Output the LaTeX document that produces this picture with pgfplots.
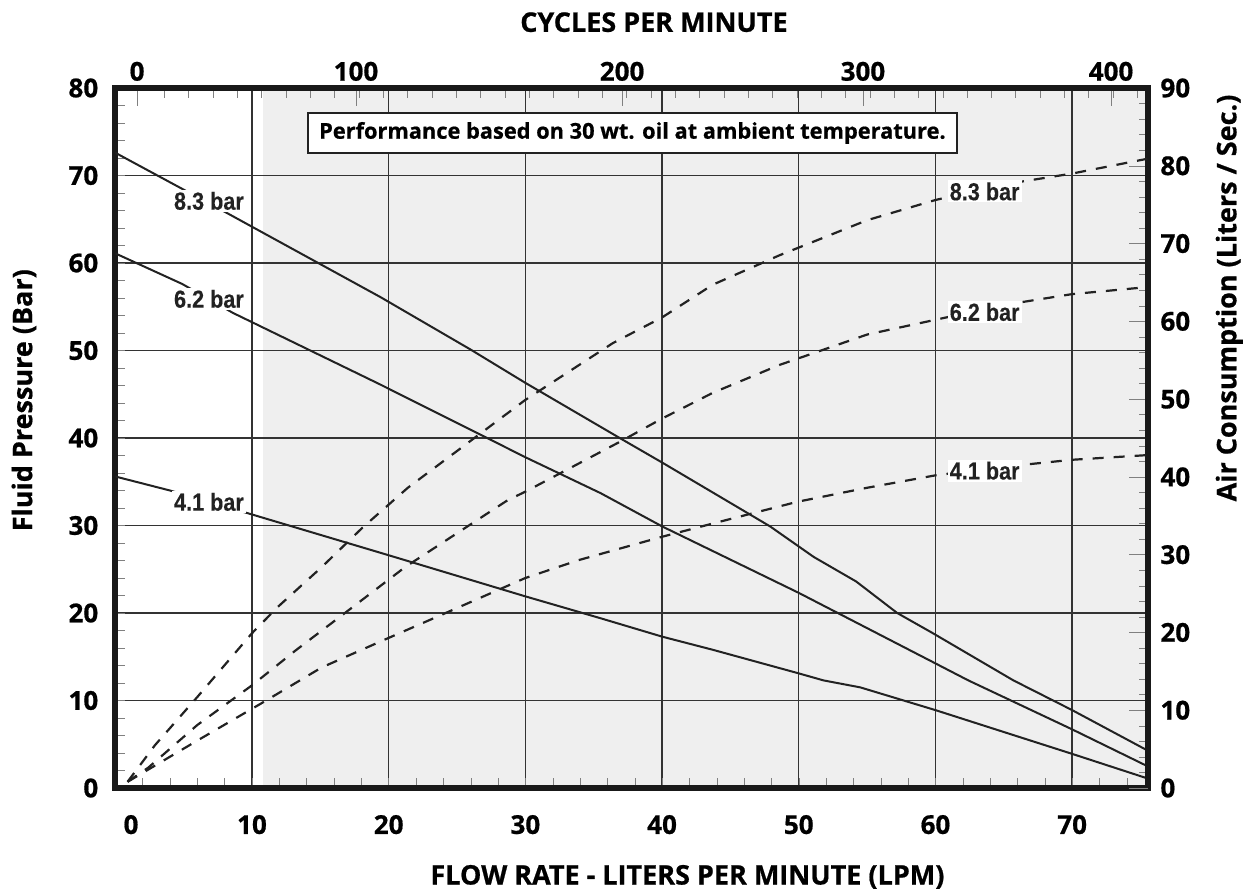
\documentclass[border=0pt]{standalone}
\usepackage{fontspec}
\usepackage{pgfplots}
\pgfplotsset{compat=1.18}
\setmainfont{Open Sans}[BoldFeatures={FakeBold=0.7}]
\newfontfamily\lblfont{Liberation Sans}[FakeStretch=0.88, BoldFeatures={FakeBold=0.3}]

\definecolor{shade}{HTML}{EFEFEF}
\definecolor{ink}{HTML}{222222}

\pgfplotsset{
  common/.style={
    scale only axis, width=516.35pt, height=350pt,
    xmin=0, xmax=75.55,
    /pgf/number format/assume math mode=true,
    tick label style={font=\bfseries\fontsize{13}{13}\selectfont},
    label style={font=\bfseries\fontsize{13.5}{13.5}\selectfont},
    tick align=inside,
    axis line style={line width=3pt, black!90},
  },
  curve/.style={ink, line width=1pt},
  air/.style={ink, line width=1.1pt, dash pattern=on 5.5pt off 5pt},
}
\tikzset{
  tag/.style={fill=white, inner sep=1pt, text=ink,
    font=\lblfont\bfseries\fontsize{12.3}{12.3}\selectfont},
}

\begin{document}
\begin{tikzpicture}
% grey band behind the grid
\begin{axis}[common, name=bg, hide axis, ymin=0, ymax=80]
  \addplot[fill=shade, draw=none] coordinates {(10.8,80) (75.55,80)} \closedcycle;
\end{axis}

% flow rate vs fluid pressure
\begin{axis}[common, name=main, at={(bg.south west)}, anchor=south west,
    ymin=0, ymax=80,
    xtick={10,20,...,70}, ytick={10,20,...,70},
    extra x ticks={1.15}, extra x tick labels={0},
    extra y ticks={0,80},
    extra tick style={grid=none, tick style={draw=none}},
    minor xtick={2,4,...,74}, minor ytick={2,4,...,78},
    xtick pos=bottom, ytick pos=left,
    major tick length=5pt, minor tick length=5pt,
    grid=major, major grid style={line width=0.7pt, black!80},
    xticklabel style={yshift=-10pt},
    yticklabel style={xshift=-5pt},
    xlabel={FLOW RATE - LITERS PER MINUTE (LPM)},
    xlabel style={at={(rel axis cs:0.554,-0.127)}, anchor=center},
    ylabel={Fluid Pressure (Bar)},
    ylabel style={at={(rel axis cs:-0.0884,0.554)}, anchor=center},
  ]
  \addplot[curve] coordinates {(0,72.6) (8.3,65.6) (19.4,56.1) (26,50.1) (30,46.3)
    (36.9,40.0) (40,37.2) (47.9,29.9) (51.1,26.4) (54.2,23.6) (57.2,20.0)
    (59.8,17.7) (65.7,12.3) (70,8.9) (75.5,4.3)};
  \addplot[curve] coordinates {(0,61.1) (4.9,57.6) (8.6,54.3) (19.4,46.1) (27.2,40.0)
    (30,37.8) (35.5,33.7) (40,29.9) (50,22.3) (59.8,14.4) (62.4,12.3)
    (70,6.7) (75.5,2.5)};
  \addplot[curve] coordinates {(0,35.6) (4.0,34.0) (9.7,31.4) (20,26.6) (30,21.9)
    (35.5,19.4) (40,17.3) (43.7,15.8) (50,13.1) (51.8,12.3) (54.5,11.5)
    (60,8.9) (70,3.9) (75.5,1.1)};
  \node[tag] at (axis cs:6.85,67.1) {8.3 bar};
  \node[tag] at (axis cs:6.85,55.9) {6.2 bar};
  \node[tag] at (axis cs:6.85,32.7) {4.1 bar};
  \node[draw=ink, line width=1.3pt, fill=white, minimum width=324.5pt,
    minimum height=20pt, inner sep=0pt,
    font=\bfseries\fontsize{10.9}{10.9}\selectfont]
    at (axis cs:37.83,74.86) {Performance based on 30 wt. oil at ambient temperature.};
\end{axis}

% air consumption, right axis
\begin{axis}[common, at={(main.south west)}, anchor=south west,
    ymin=0, ymax=90,
    axis x line=none, axis y line*=right,
    y axis line style={-},
    ytick={0,10,...,90}, minor ytick={2,4,...,88},
    major tick length=9.5pt, minor tick length=4.5pt,
    yticklabel style={xshift=2.7pt},
    ylabel={Air Consumption (Liters / Sec.)},
    ylabel style={at={(rel axis cs:1.0787,0.70)}, anchor=center},
  ]
  \addplot[air] coordinates {(0.9,0.8) (2.9,5.5) (6.0,11.7) (10,19.9) (11.9,23.3)
    (15.1,28.4) (18.1,33.5) (21.4,38.6) (30,49.9) (36.4,57.2) (40,60.5)
    (43.7,64.7) (48.6,68.5) (55,73.0) (60,75.6) (65,77.6) (70,79.0) (75.5,80.9)};
  \addplot[air] coordinates {(0.9,0.8) (2.4,2.6) (6,8.1) (10,13.2) (13.2,17.7)
    (16.8,22.5) (21.2,28.4) (28.7,37.0) (30,38.1) (36.9,44.5) (40,47.5)
    (43.7,50.8) (48.6,54.4) (55,58.3) (60,60.2) (65,62.1) (70,63.5) (75.5,64.4)};
  \addplot[air] coordinates {(0.9,0.8) (6.1,6.2) (10.7,10.9) (15.1,15.5) (20,19.3)
    (24.3,22.6) (30,27.0) (33.9,29.3) (40,32.3) (43.7,34.0) (49.9,36.8)
    (55,38.6) (60,40.2) (65,41.3) (70,42.2) (75.5,42.8)};
  \node[tag] at (axis cs:63.6,76.7) {8.3 bar};
  \node[tag] at (axis cs:63.6,61.2) {6.2 bar};
  \node[tag] at (axis cs:63.6,40.8) {4.1 bar};
\end{axis}

% cycles per minute, top axis
\begin{axis}[common, at={(main.south west)}, anchor=south west,
    xmin=-10.15, xmax=414.4, ymin=0, ymax=1,
    axis y line=none, axis x line*=top,
    x axis line style={-},
    xtick={-1.2,88.8,198.2,297.2,399.2}, xticklabels={0,100,200,300,400},
    minor xtick={10,20,...,410},
    major tick length=9pt, minor tick length=5pt,
    xlabel={CYCLES PER MINUTE},
    xlabel style={at={(rel axis cs:0.5216,1.094)}, anchor=center},
  ]
  \addplot[draw=none] coordinates {(0,0)};
\end{axis}

\pgfresetboundingbox
\path ([shift={(-57.65pt,-52.5pt)}]main.south west)
  rectangle ([shift={(51.5pt,44pt)}]main.north east);
\end{tikzpicture}
\end{document}
